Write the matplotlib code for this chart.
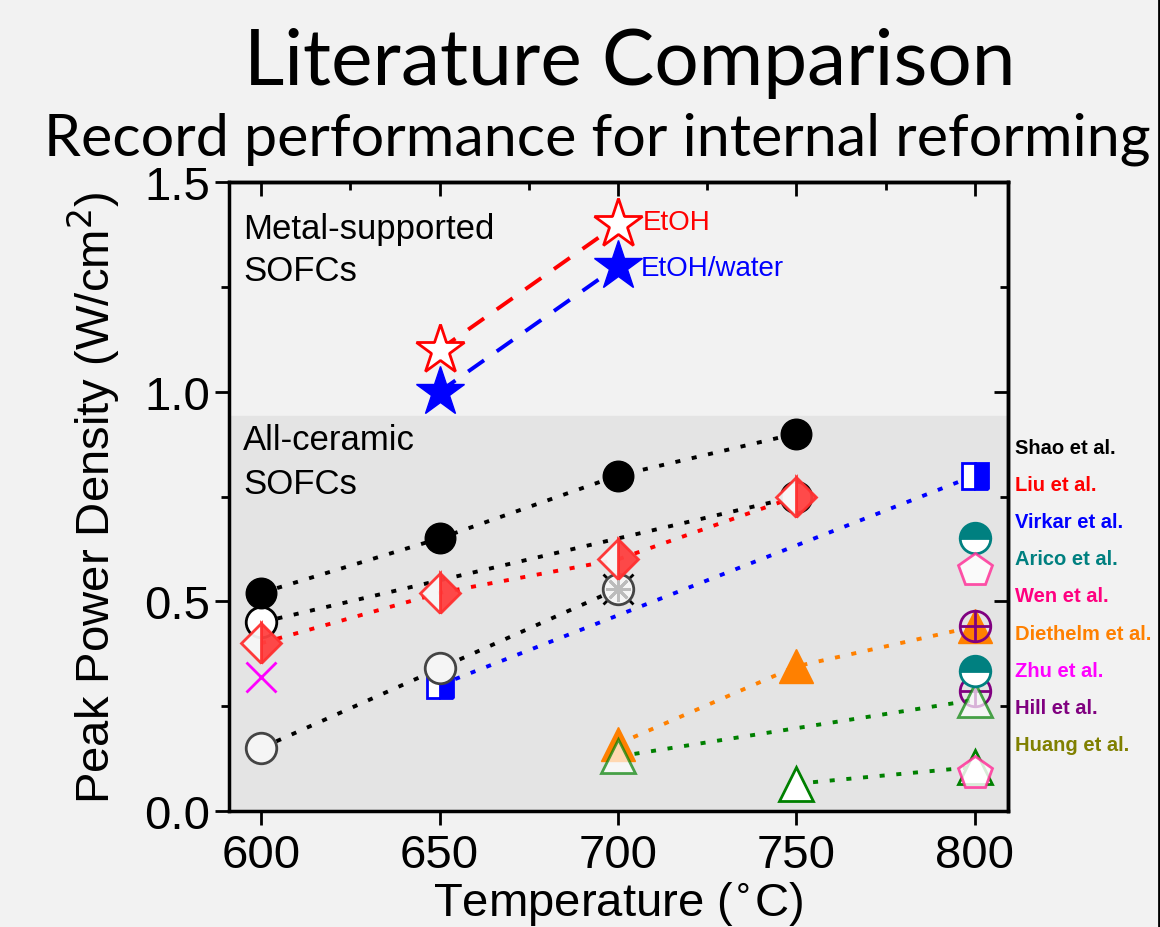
import matplotlib.pyplot as plt
from matplotlib.lines import Line2D

# temperatures (C) and peak power densities (W/cm2)
etoh_T = [650, 700]
etoh_P = [1.10, 1.40]
etoh_water_T = [650, 700]
etoh_water_P = [1.00, 1.30]

shao_T = [600, 650, 700, 750]
shao_P = [0.52, 0.65, 0.80, 0.90]
shao2_T = [600, 750]
shao2_P = [0.45, 0.75]
liu_T = [600, 650, 700, 750]
liu_P = [0.40, 0.52, 0.60, 0.75]
zhu_T = [600]
zhu_P = [0.32]
gray_T = [600, 650, 700]
gray_P = [0.15, 0.34, 0.53]
virkar_T = [650, 800]
virkar_P = [0.30, 0.80]
arico_T = [800, 800]
arico_P = [0.65, 0.335]
wen_T = [800, 800]
wen_P = [0.575, 0.09]
diethelm_T = [700, 750, 800]
diethelm_P = [0.16, 0.345, 0.44]
hill_T = [800, 800]
hill_P = [0.44, 0.285]
greenA_T = [700, 800]
greenA_P = [0.13, 0.265]
greenB_T = [750, 800]
greenB_P = [0.065, 0.105]

authors = ['Shao et al.', 'Liu et al.', 'Virkar et al.', 'Arico et al.', 'Wen et al.',
           'Diethelm et al.', 'Zhu et al.', 'Hill et al.', 'Huang et al.']
author_colors = ['black', 'red', 'blue', '#008080', '#ff0080',
                 '#ff8000', '#ff00ff', '#800080', '#808000']

plt.rcParams['font.family'] = ['Liberation Sans', 'DejaVu Sans']

bg = '#f2f2f2'
fig = plt.figure(figsize=(11.6, 9.28), dpi=100, facecolor=bg)
ax = fig.add_axes([229/1160, 1-812/928, 779/1160, 629/928])
ax.set_facecolor(bg)
ax.axhspan(0, 0.942, color='#e4e4e4', zorder=0)

dot = (0, (1.3, 3.0))
dash = (0, (5, 4))
lw = 2.8
ax.plot(etoh_T, etoh_P, color='red', ls=dash, lw=lw, zorder=2)
ax.plot(etoh_water_T, etoh_water_P, color='blue', ls=dash, lw=lw, zorder=2)
ax.plot(shao_T, shao_P, color='black', ls=dot, lw=lw, zorder=2)
ax.plot(shao2_T, shao2_P, color='black', ls=dot, lw=lw, zorder=2)
ax.plot(liu_T, liu_P, color='red', ls=dot, lw=lw, zorder=2)
ax.plot(gray_T, gray_P, color='black', ls=dot, lw=lw, zorder=2)
ax.plot(virkar_T, virkar_P, color='blue', ls=dot, lw=lw, zorder=2)
ax.plot(diethelm_T, diethelm_P, color='#ff8000', ls=dot, lw=lw, zorder=2)
ax.plot(greenA_T, greenA_P, color='green', ls=dot, lw=lw, zorder=2)
ax.plot(greenB_T, greenB_P, color='green', ls=dot, lw=lw, zorder=2)

# stars
ax.plot(etoh_T, etoh_P, ls='none', marker='*', ms=37, mfc='white', mec='red', mew=2, zorder=4)
ax.plot(etoh_water_T, etoh_water_P, ls='none', marker='*', ms=37, mfc='blue', mec='blue', mew=1, zorder=4)

ms = 22
ax.plot(shao_T, shao_P, ls='none', marker='o', ms=ms, color='black', zorder=4)
ax.plot(shao2_T, shao2_P, ls='none', marker='o', ms=ms, mfc='white', mec='black', mew=2, zorder=3)
ax.plot(zhu_T, zhu_P, ls='none', marker='x', ms=ms, color='#ff00ff', mew=2, zorder=3)
ax.plot([700], [0.53], ls='none', marker='x', ms=ms, color='black', mew=2, zorder=3)
ax.plot(gray_T, gray_P, ls='none', marker='o', ms=ms, mfc='#f5f5f5', mec='#444444', mew=2, zorder=4)
ax.plot([700], [0.53], ls='none', marker=(8, 2, 0), ms=18, color='#bbbbbb', mew=2, zorder=4)
ax.plot(liu_T, liu_P, ls='none', marker='D', ms=20, fillstyle='right', mfc='#ff4040',
        markerfacecoloralt='#f7f7f7', mec='#ff3030', mew=2, alpha=0.95, zorder=5)
ax.plot(virkar_T, virkar_P, ls='none', marker='s', ms=19, fillstyle='right', mfc='blue',
        markerfacecoloralt='white', mec='blue', mew=2, zorder=3)
ax.plot(diethelm_T, diethelm_P, ls='none', marker='^', ms=25, color='#ff8000', zorder=3)
ax.plot(hill_T, hill_P, ls='none', marker='o', ms=ms, mfc='none', mec='#800080', mew=2, zorder=4)
ax.plot(hill_T, hill_P, ls='none', marker='+', ms=ms, color='#800080', mew=2, zorder=4)
ax.plot(greenA_T, greenA_P, ls='none', marker='^', ms=25, mfc='white', mec='green', mew=2, alpha=0.7, zorder=5)
ax.plot(greenB_T, greenB_P, ls='none', marker='^', ms=25, mfc='white', mec='green', mew=2, zorder=3)
ax.plot(arico_T, arico_P, ls='none', marker='o', ms=ms, fillstyle='top', mfc='#008080',
        markerfacecoloralt='white', mec='#008080', mew=2, zorder=6)
ax.plot(wen_T, wen_P, ls='none', marker='p', ms=25, mfc='white', mec='#ff3399', mew=2, alpha=0.85, zorder=6)

ax.text(707, 1.405, 'EtOH', color='red', fontsize=20, va='center')
ax.text(706.5, 1.295, 'EtOH/water', color='blue', fontsize=20, va='center')
ax.text(595, 1.39, 'Metal-supported', fontsize=25, va='center')
ax.text(595, 1.29, 'SOFCs', fontsize=25, va='center')
ax.text(595, 0.885, 'All-ceramic', fontsize=25, va='center')
ax.text(595, 0.78, 'SOFCs', fontsize=25, va='center')

ax.set_xlim(591, 809.3)
ax.set_ylim(0, 1.5)
ax.set_xticks([600, 650, 700, 750, 800])
ax.set_yticks([0.0, 0.5, 1.0, 1.5])
ax.set_yticks([0.25, 0.75, 1.25], minor=True)
ax.set_yticklabels(['0.0', '0.5', '1.0', '1.5'])
ax.tick_params(axis='both', which='major', labelsize=34, length=10, width=2, direction='out')
ax.tick_params(axis='y', which='minor', length=6, width=2, direction='out')
ax.tick_params(axis='x', pad=6)
for s in ax.spines.values():
    s.set_linewidth(2.5)

top = ax.secondary_xaxis('top')
top.set_xticks([600, 650, 700, 750, 800])
top.set_xticks([625, 675, 725, 775], minor=True)
top.tick_params(which='major', direction='in', length=10, width=2, labeltop=False)
top.tick_params(which='minor', direction='in', length=6, width=2)
top.spines['top'].set_linewidth(2.5)
right = ax.secondary_yaxis('right')
right.set_yticks([0.5, 1.0])
right.set_yticks([0.25, 0.75, 1.25], minor=True)
right.tick_params(which='major', direction='in', length=10, width=2, labelright=False)
right.tick_params(which='minor', direction='in', length=6, width=2)
right.spines['right'].set_linewidth(2.5)

ax.set_xlabel('Temperature ($^{\\circ}$C)', fontsize=34, labelpad=1)
ax.set_ylabel('Peak Power Density (W/cm$^2$)', fontsize=34, labelpad=16)

for i, (name, c) in enumerate(zip(authors, author_colors)):
    fig.text(1015/1160, 1-(448+37.2*i)/928, name, color=c, fontsize=14.5,
             fontweight='bold', va='center')

fig.text(630/1160, 1-85/928, 'Literature Comparison', fontsize=56.5,
         family=['Lato', 'DejaVu Sans'], ha='center', va='baseline')
fig.text(597/1160, 1-155/928, 'Record performance for internal reforming', fontsize=42.7,
         family=['Lato', 'DejaVu Sans'], ha='center', va='baseline')

fig.add_artist(Line2D([1158.5/1160, 1158.5/1160], [0, 1], color='black', lw=2))

fig.savefig('out.png', dpi=100, facecolor=bg)
